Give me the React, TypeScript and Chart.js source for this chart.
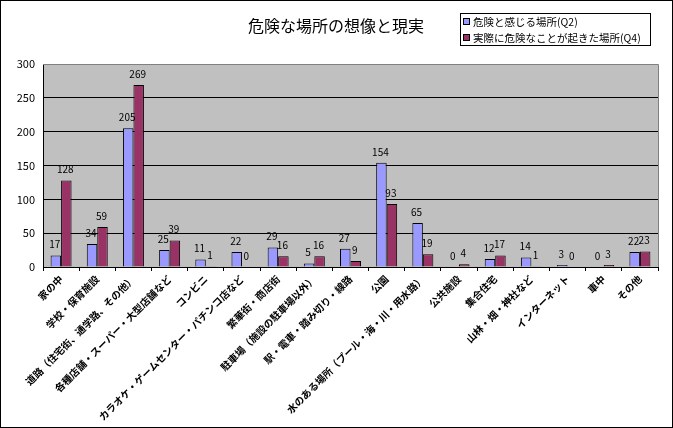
import React, { useEffect, useRef } from 'react';
import { Chart, registerables } from 'chart.js';

Chart.register(...registerables);

const categories: string[] = [
  '家の中',
  '学校・保育施設',
  '道路（住宅街、通学路、その他）',
  '各種店舗・スーパー・大型店舗など',
  'コンビニ',
  'カラオケ・ゲームセンター・パチンコ店など',
  '繁華街・商店街',
  '駐車場（施設の駐車場以外）',
  '駅・電車・踏み切り・線路',
  '公園',
  '水のある場所（プール・海・川・用水路）',
  '公共施設',
  '集合住宅',
  '山林・畑・神社など',
  'インターネット',
  '車中',
  'その他',
];

const seriesQ2: number[] = [17, 34, 205, 25, 11, 22, 29, 5, 27, 154, 65, 0, 12, 14, 3, 0, 22];
const seriesQ4: number[] = [128, 59, 269, 39, 1, 0, 16, 16, 9, 93, 19, 4, 17, 1, 0, 3, 23];

const seriesNames: string[] = ['危険と感じる場所(Q2)', '実際に危険なことが起きた場所(Q4)'];
const seriesColors: string[] = ['#9999ff', '#993366'];
const chartTitle = '危険な場所の想像と現実';
const yMin = 0;
const yMax = 300;
const yStep = 50;

const FONT = '"Noto Sans CJK JP", "Noto Sans", sans-serif';

const decorPlugin = {
  id: 'decor',
  beforeDraw(chart: any) {
    const { ctx, chartArea } = chart;
    ctx.save();
    ctx.fillStyle = '#ffffff';
    ctx.fillRect(0, 0, chart.width, chart.height);
    ctx.fillStyle = '#c0c0c0';
    ctx.fillRect(chartArea.left, chartArea.top, chartArea.right - chartArea.left, chartArea.bottom - chartArea.top);
    ctx.restore();
  },
  afterDatasetsDraw(chart: any) {
    const { ctx } = chart;
    ctx.save();
    ctx.font = `10px ${FONT}`;
    ctx.fillStyle = '#000';
    ctx.textAlign = 'center';
    ctx.textBaseline = 'bottom';
    chart.data.datasets.forEach((ds: any, di: number) => {
      const meta = chart.getDatasetMeta(di);
      meta.data.forEach((el: any, i: number) => {
        ctx.fillText(String(ds.data[i]), el.x - 1, el.y - 6);
      });
    });
    ctx.restore();
  },
  afterDraw(chart: any) {
    const { ctx, chartArea } = chart;
    ctx.save();
    // plot border (top/right gray)
    ctx.strokeStyle = '#808080';
    ctx.lineWidth = 1;
    ctx.beginPath();
    ctx.moveTo(chartArea.left, Math.round(chartArea.top) + 0.5);
    ctx.lineTo(Math.round(chartArea.right) + 0.5, Math.round(chartArea.top) + 0.5);
    ctx.lineTo(Math.round(chartArea.right) + 0.5, chartArea.bottom);
    ctx.stroke();

    // title
    ctx.fillStyle = '#000';
    ctx.font = `16px ${FONT}`;
    ctx.textAlign = 'center';
    ctx.textBaseline = 'middle';
    ctx.fillText(chartTitle, 336, 26);

    // legend
    const lx = 460, ly = 13, lw = 190, lh = 32;
    ctx.fillStyle = '#fff';
    ctx.fillRect(lx, ly, lw, lh);
    ctx.strokeStyle = '#000';
    ctx.strokeRect(lx + 0.5, ly + 0.5, lw, lh);
    ctx.font = `10.5px ${FONT}`;
    ctx.textAlign = 'left';
    seriesNames.forEach((name, i) => {
      const cy = ly + 8 + i * 16;
      ctx.fillStyle = seriesColors[i];
      ctx.fillRect(lx + 3, cy - 3, 7, 7);
      ctx.strokeStyle = '#000';
      ctx.strokeRect(lx + 3.5, cy - 2.5, 6, 6);
      ctx.fillStyle = '#000';
      ctx.fillText(name, lx + 13, cy + 1);
    });

    // outer border
    ctx.strokeStyle = '#000';
    ctx.strokeRect(0.5, 0.5, chart.width - 1, chart.height - 1);
    ctx.restore();
  },
};

export default function App() {
  const ref = useRef<HTMLCanvasElement | null>(null);
  useEffect(() => {
    if (!ref.current) return;
    const chart = new Chart(ref.current, {
      type: 'bar',
      data: {
        labels: categories,
        datasets: [
          {
            label: seriesNames[0],
            data: seriesQ2,
            backgroundColor: seriesColors[0],
            borderColor: '#000',
            borderWidth: 1,
            categoryPercentage: 0.58,
            barPercentage: 1,
          },
          {
            label: seriesNames[1],
            data: seriesQ4,
            backgroundColor: seriesColors[1],
            borderColor: '#000',
            borderWidth: 1,
            categoryPercentage: 0.58,
            barPercentage: 1,
          },
        ],
      },
      options: {
        responsive: false,
        animation: false,
        layout: { padding: { top: 64, right: 15, left: 0, bottom: 0 } },
        plugins: {
          legend: { display: false },
          title: { display: false },
          tooltip: { enabled: false },
        },
        scales: {
          x: {
            grid: {
              drawOnChartArea: false,
              drawTicks: true,
              tickLength: 4,
              color: '#000',
              offset: true,
            },
            border: { display: true, color: '#000' },
            ticks: {
              autoSkip: false,
              maxRotation: 45,
              minRotation: 45,
              color: '#000',
              padding: 2,
              font: { family: FONT, size: 10, weight: 'bold' },
            },
            afterFit(scale: any) {
              scale.height = 161;
            },
          },
          y: {
            min: yMin,
            max: yMax,
            grid: {
              color: (c: any) => (c.tick && c.tick.value === yMax ? '#808080' : '#000'),
              drawTicks: false,
            },
            border: { display: true, color: '#000' },
            ticks: {
              stepSize: yStep,
              color: '#000',
              padding: 8,
              font: { family: FONT, size: 11 },
            },
            afterFit(scale: any) {
              scale.width = 43;
            },
          },
        },
      },
      plugins: [decorPlugin],
    } as any);
    return () => chart.destroy();
  }, []);
  return (
    <div style={{ position: 'absolute', left: 0, top: 0, width: 673, height: 428 }}>
      <canvas ref={ref} width={673} height={428} style={{ display: 'block', width: 673, height: 428 }} />
    </div>
  );
}
